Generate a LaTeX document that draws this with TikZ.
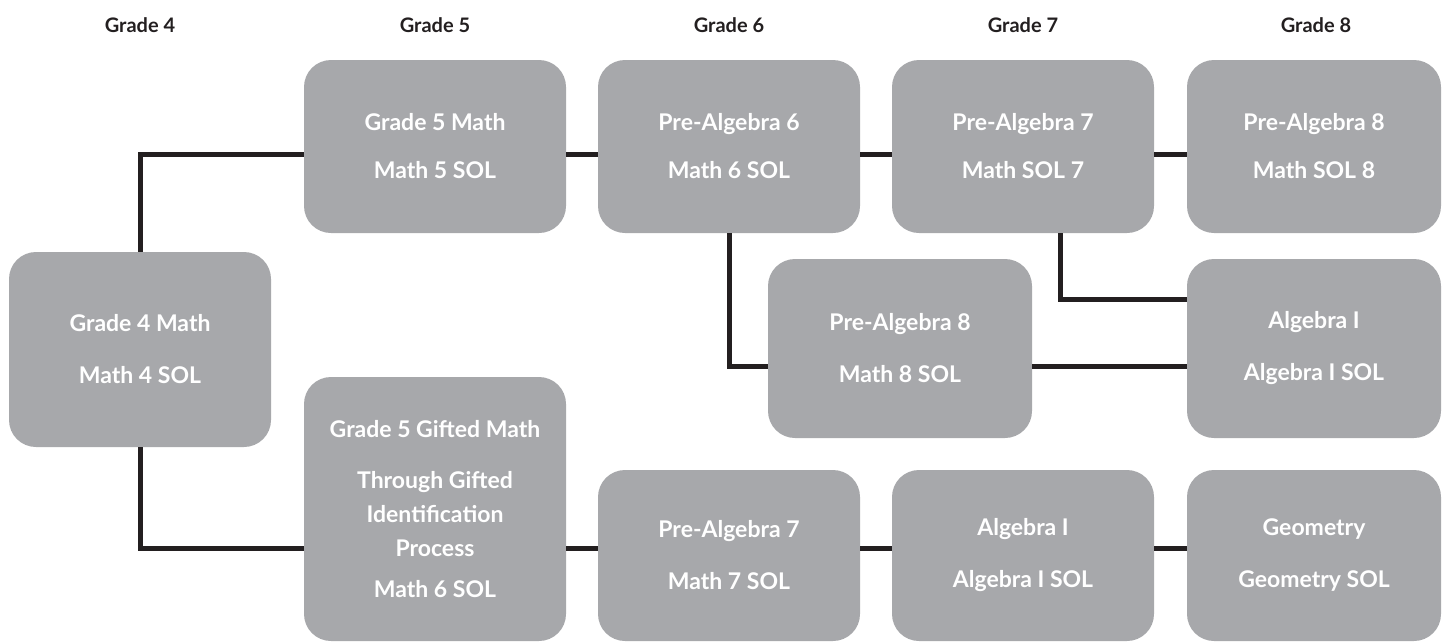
\documentclass[tikz,border=0pt]{standalone}
\usepackage{fontspec}
\setmainfont{Lato}
\usepackage{tikz}
\definecolor{boxgray}{HTML}{A7A8AB}
\definecolor{inkblack}{HTML}{231F20}

\begin{document}
\begin{tikzpicture}[x=1pt,y=-1pt,
		course/.style={fill=boxgray,rounded corners=27pt,minimum width=262pt,inner sep=0pt,
			align=center,text=white,font=\fontsize{23}{34}\selectfont\bfseries},
		grade/.style={text=inkblack,font=\fontsize{20}{24}\selectfont\bfseries},
		link/.style={draw=inkblack,line width=5pt}]
		\useasboundingbox (0,0) rectangle (1442,643);
		% column headings
		\node[grade] (h4) at (140,25) {Grade 4};
		\node[grade] (h5) at (435,25) {Grade 5};
		\node[grade] (h6) at (729,25) {Grade 6};
		\node[grade] (h7) at (1023,25) {Grade 7};
		\node[grade] (h8) at (1316,25) {Grade 8};
		% courses
		\node[course,minimum height=195pt] (g4) at (140,349.5) {Grade 4 Math\\[18pt]Math 4 SOL};
		\node[course,minimum height=173pt] (g5) at (435,146.5) {Grade 5 Math\\[14pt]Math 5 SOL};
		\node[course,minimum height=173pt] (pa6) at (729,146.5) {Pre-Algebra 6\\[14pt]Math 6 SOL};
		\node[course,minimum height=173pt] (pa7) at (1023,146.5) {Pre-Algebra 7\\[14pt]Math SOL 7};
		\node[course,minimum height=173pt,minimum width=254pt] (pa8) at (1314,146.5) {Pre-Algebra 8\\[14pt]Math SOL 8};
		\node[course,minimum height=179pt,minimum width=264pt] (pa8m) at (900,348.5) {Pre-Algebra 8\\[18pt]Math 8 SOL};
		\node[course,minimum height=179pt,minimum width=254pt] (alg) at (1314,348.5) {Algebra I\\[18pt]Algebra I SOL};
		\node[course,minimum height=264pt] (gift) at (435,509) {Grade 5 Gifted Math\\[17pt]Through Gifted\\Identification\\Process\\[7pt]Math 6 SOL};
		\node[course,minimum height=171pt] (pa7b) at (729,555.5) {Pre-Algebra 7\\[18pt]Math 7 SOL};
		\node[course,minimum height=171pt] (algb) at (1023,555.5) {Algebra I\\[18pt]Algebra I SOL};
		\node[course,minimum height=171pt,minimum width=254pt] (geo) at (1314,555.5) {Geometry\\[18pt]Geometry SOL};
		% paths between courses
		\draw[link] (g4.north) |- ([yshift=-7.5pt]g5.west);
		\draw[link] ([yshift=-7.5pt]g5.east) -- ([yshift=-7.5pt]pa6.west);
		\draw[link] ([yshift=-7.5pt]pa6.east) -- ([yshift=-7.5pt]pa7.west);
		\draw[link] ([yshift=-7.5pt]pa7.east) -- ([yshift=-7.5pt]pa8.west);
		\draw[link] (pa6.south) |- ([yshift=-17.5pt]pa8m.west);
		\draw[link] ([xshift=37pt]pa7.south) |- ([yshift=49.5pt]alg.west);
		\draw[link] ([yshift=-17.5pt]pa8m.east) -- ([yshift=-17.5pt]alg.west);
		\draw[link] (g4.south) |- ([yshift=-39pt]gift.west);
		\draw[link] ([yshift=7.5pt]pa7b.west -| gift.east) -- ([yshift=7.5pt]pa7b.west);
		\draw[link] ([yshift=7.5pt]pa7b.east) -- ([yshift=7.5pt]algb.west);
		\draw[link] ([yshift=7.5pt]algb.east) -- ([yshift=7.5pt]geo.west);
\end{tikzpicture}
\end{document}
